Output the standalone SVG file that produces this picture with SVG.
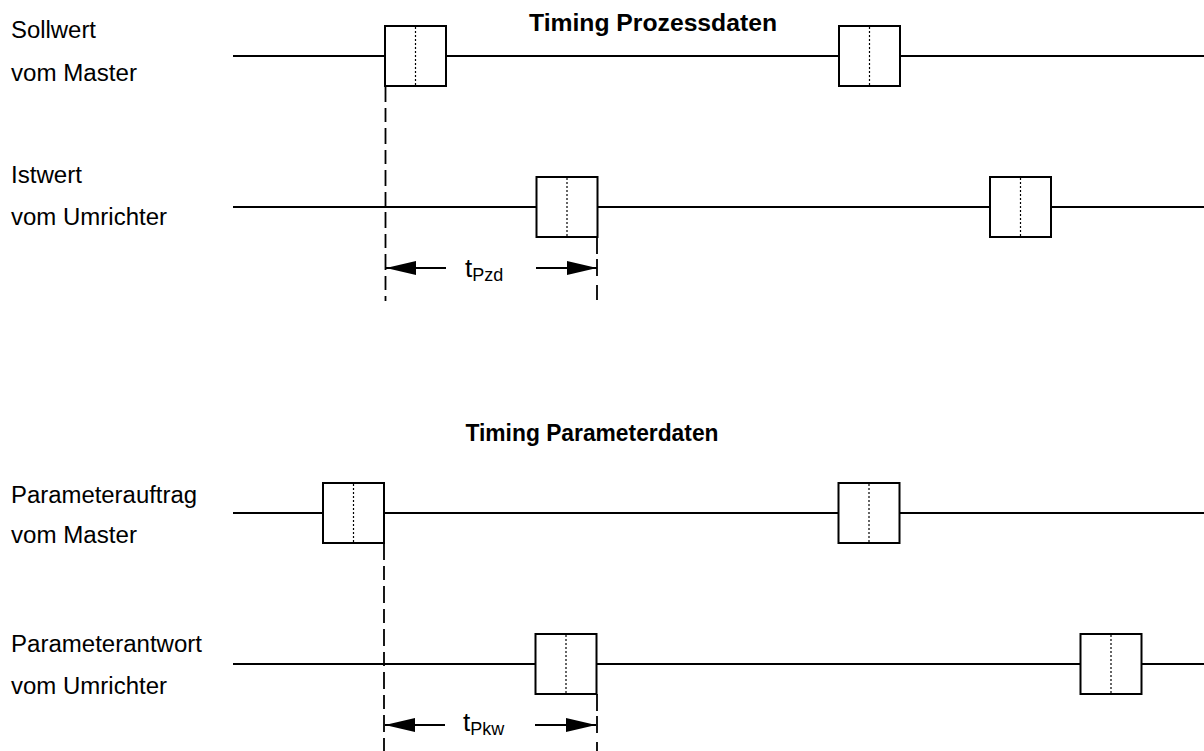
<svg xmlns="http://www.w3.org/2000/svg" width="1204" height="751" viewBox="0 0 1204 751">
  <defs>
    <style>
      .label { font-family: "Liberation Sans", Arial, sans-serif; font-size: 23px; fill: #000; }
      .title { font-family: "Liberation Sans", Arial, sans-serif; font-size: 23px; font-weight: bold; fill: #000; }
      .dimtext { font-family: "Liberation Sans", Arial, sans-serif; font-size: 26px; fill: #000; }
      .sub { font-size: 18px; }
      .wire { stroke: #000; stroke-width: 2; fill: none; }
      .frame { stroke: #000; stroke-width: 2; fill: #fff; }
      .dots { stroke: #000; stroke-width: 1.2; stroke-dasharray: 2 2; fill: none; }
      .dash { stroke: #000; stroke-width: 1.8; fill: none; }
      .dim { stroke: #000; stroke-width: 2; fill: none; }
    </style>
    <marker id="head" viewBox="0 0 30 14" refX="30" refY="7" markerWidth="30" markerHeight="14" markerUnits="userSpaceOnUse" orient="auto">
      <path d="M0,0 L30,7 L0,14 Z" fill="#000"/>
    </marker>
    <!-- one telegram frame: box with a dotted divider in the middle -->
    <g id="frame">
      <rect class="frame" x="0" y="0" width="61" height="60"/>
      <line class="dots" x1="30.5" y1="1" x2="30.5" y2="59"/>
    </g>
  </defs>

  <rect width="1204" height="751" fill="#fff"/>

  <!-- titles -->
  <text class="title" x="653" y="31" text-anchor="middle" textLength="248" lengthAdjust="spacingAndGlyphs">Timing Prozessdaten</text>
  <text class="title" x="592" y="441" text-anchor="middle" textLength="253" lengthAdjust="spacingAndGlyphs">Timing Parameterdaten</text>

  <!-- signal names -->
  <g id="label-sollwert">
    <text class="label" x="11" y="38" textLength="85" lengthAdjust="spacingAndGlyphs">Sollwert</text>
    <text class="label" x="11" y="81" textLength="126" lengthAdjust="spacingAndGlyphs">vom Master</text>
  </g>
  <g id="label-istwert">
    <text class="label" x="11" y="183" textLength="71" lengthAdjust="spacingAndGlyphs">Istwert</text>
    <text class="label" x="11" y="225" textLength="156" lengthAdjust="spacingAndGlyphs">vom Umrichter</text>
  </g>
  <g id="label-auftrag">
    <text class="label" x="11" y="503" textLength="186" lengthAdjust="spacingAndGlyphs">Parameterauftrag</text>
    <text class="label" x="11" y="543" textLength="126" lengthAdjust="spacingAndGlyphs">vom Master</text>
  </g>
  <g id="label-antwort">
    <text class="label" x="11" y="652" textLength="191" lengthAdjust="spacingAndGlyphs">Parameterantwort</text>
    <text class="label" x="11" y="694" textLength="156" lengthAdjust="spacingAndGlyphs">vom Umrichter</text>
  </g>

  <!-- connectors: timelines, reference lines, dimension arrows -->
  <g id="connectors">
    <line class="wire" x1="233" y1="56" x2="1204" y2="56"/>
    <line class="wire" x1="233" y1="207" x2="1204" y2="207"/>
    <line class="wire" x1="233" y1="513" x2="1204" y2="513"/>
    <line class="wire" x1="233" y1="664" x2="1204" y2="664"/>

    <!-- process data reference lines -->
    <line class="dash" x1="385.5" y1="86" x2="385.5" y2="301" stroke-dasharray="16 6 14 6"/>
    <line class="dash" x1="597" y1="237" x2="597" y2="300" stroke-dasharray="17 5 17 9"/>

    <!-- parameter data reference lines -->
    <line class="dash" x1="384" y1="543" x2="384" y2="751" stroke-dasharray="17 6 14 6"/>
    <line class="dash" x1="597" y1="694" x2="597" y2="751" stroke-dasharray="17 5 17 9"/>

    <!-- t_Pzd -->
    <line class="dim" x1="446" y1="268" x2="386" y2="268" marker-end="url(#head)"/>
    <line class="dim" x1="536" y1="268" x2="597" y2="268" marker-end="url(#head)"/>

    <!-- t_Pkw -->
    <line class="dim" x1="445" y1="725" x2="385" y2="725" marker-end="url(#head)"/>
    <line class="dim" x1="535" y1="725" x2="596" y2="725" marker-end="url(#head)"/>
  </g>

  <!-- frames -->
  <g id="soll-1"><use href="#frame" x="385" y="26"/></g>
  <g id="soll-2"><use href="#frame" x="839" y="26"/></g>
  <g id="ist-1"><use href="#frame" x="536.5" y="177"/></g>
  <g id="ist-2"><use href="#frame" x="990" y="177"/></g>
  <g id="auftrag-1"><use href="#frame" x="323" y="483"/></g>
  <g id="auftrag-2"><use href="#frame" x="838.5" y="483"/></g>
  <g id="antwort-1"><use href="#frame" x="535.5" y="634"/></g>
  <g id="antwort-2"><use href="#frame" x="1080.5" y="634"/></g>

  <!-- dimension labels -->
  <g id="label-tpzd">
    <text class="dimtext" x="465" y="277">t<tspan class="sub" dy="4">Pzd</tspan></text>
  </g>
  <g id="label-tpkw">
    <text class="dimtext" x="463" y="731">t<tspan class="sub" dy="4">Pkw</tspan></text>
  </g>
</svg>
